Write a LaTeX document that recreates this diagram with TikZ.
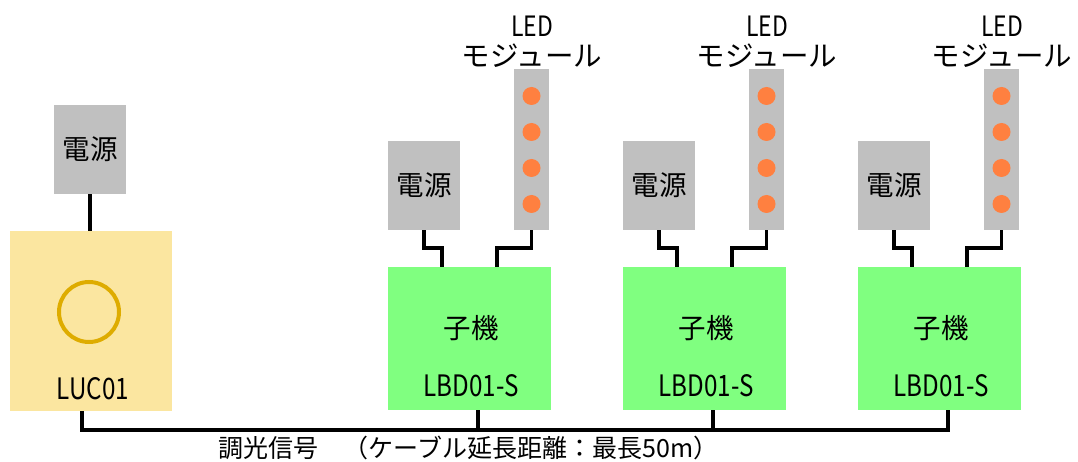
\documentclass[tikz,border=0pt]{standalone}
\usepackage{fontspec}
\setmainfont{Noto Sans CJK JP}
\newfontfamily\latinfont[FakeStretch=0.82]{Noto Sans CJK JP}
\usepackage{tikz}
\usetikzlibrary{positioning}
\usepackage{xcolor}
\definecolor{psugray}{RGB}{192,192,192}
\definecolor{lbdgreen}{RGB}{128,255,128}
\definecolor{lucyellow}{RGB}{251,230,160}
\definecolor{ringgold}{RGB}{222,172,0}
\definecolor{ledorange}{RGB}{255,128,64}

\begin{document}
\begin{tikzpicture}[x=1pt, y=-1pt,
    cjk/.style={font=\fontsize{27.5}{30}\selectfont},
    kana/.style={font=\fontsize{28.5}{30}\selectfont},
    cjksmall/.style={font=\fontsize{25}{28}\selectfont},
    latin/.style={font=\latinfont\fontsize{29.5}{32}\selectfont},
    latinsmall/.style={font=\latinfont\fontsize{28}{30}\selectfont},
    psubox/.style={cjk, fill=psugray, inner sep=0pt, minimum width=72pt, minimum height=89pt},
    ledbar/.style={fill=psugray, inner sep=0pt, minimum width=35pt, minimum height=161pt},
    lbdbox/.style={fill=lbdgreen, inner sep=0pt, minimum width=163pt, minimum height=143pt},
    lucbox/.style={fill=lucyellow, inner sep=0pt, minimum width=162pt, minimum height=180pt},
    wire/.style={line width=3.4pt}]
\useasboundingbox (0,0) rectangle (1078,462);
%
% master
\node (psu0) [psubox] at (90,149.5) {電源};
\node (luc) [lucbox] at (91,321) {};
\node (lamp) [circle, draw=ringgold, line width=4pt, minimum size=60pt] at (89,312) {};
\node (lucname) [latin] at (93,389) {LUC01};
\draw[wire] (psu0.south) -- (psu0.south |- luc.north);
%
% slaves
\foreach \i/\dx in {1/0,2/235,3/470}{
  \node (psu\i) [psubox] at (424+\dx,185.5) {電源};
  \node (led\i) [ledbar] at (531.5+\dx,149.5) {};
  \node (ledtop\i) [latinsmall] at (532+\dx,26) {LED};
  \node (ledname\i) [kana] at (532+\dx,56) {モジュール};
  \foreach \y in {96,132,168,204}
    \fill[ledorange] (531.5+\dx,\y) circle (9pt);
  \node (lbd\i) [lbdbox] at (469.5+\dx,338.5) {};
  \node (lbdname\i) [cjk] at (471+\dx,328) {子機};
  \node (lbdtype\i) [latin] at (471+\dx,386) {LBD01-S};
  \coordinate (pinp\i) at (442+\dx,267);
  \coordinate (pinl\i) at (497+\dx,267);
  \coordinate (sig\i) at (478+\dx,410);
  \draw[wire] (psu\i.south) -- ++(0,18) -| (pinp\i);
  \draw[wire] (led\i.south) -- ++(0,18) -| (pinl\i);
}
%
% bus
\coordinate (sig0) at (82,411);
\coordinate (busL) at (82,430);
\draw[wire] (sig0) -- (busL) -- (busL -| sig3) -- (sig3);
\draw[wire] (sig1) -- (sig1 |- busL);
\draw[wire] (sig2) -- (sig2 |- busL);
\node (buslabel) [cjksmall] at (468.5,448) {調光信号　（ケーブル延長距離：最長50m）};
%
\end{tikzpicture}
\end{document}
